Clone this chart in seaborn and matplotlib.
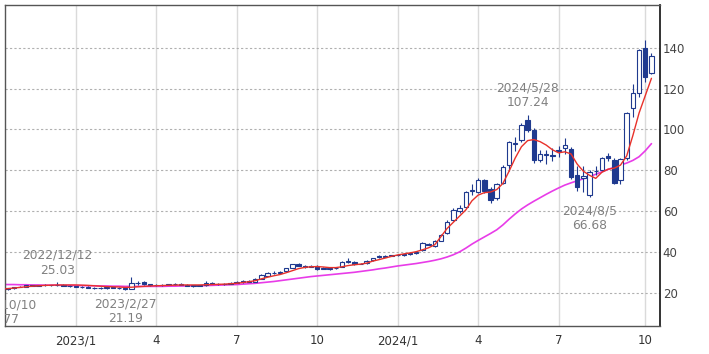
import pandas as pd
import numpy as np
import matplotlib
matplotlib.use('Agg')
import matplotlib.pyplot as plt
import matplotlib.dates as mdates
import matplotlib.transforms as mtransforms
import seaborn as sns

# Weekly candles (week starting Monday)
weeks = pd.date_range('2022-10-10', periods=106, freq='7D')

opens = [22.3, 21.9, 22.2, 22.9, 23.0, 23.6, 23.5, 23.9, 23.6, 23.8, 24.0, 23.5,
         23.3, 22.8, 22.9, 22.5, 22.1, 22.2, 22.6, 22.5, 22.3, 21.9, 24.7, 25.2,
         24.2, 23.7, 23.8, 24.0, 24.2, 24.4, 24.0, 23.5, 23.6, 23.6, 24.8, 24.5,
         24.4, 24.5, 25.0, 25.4, 25.6, 25.4, 26.8, 28.4, 29.8, 29.7, 30.6, 32.3,
         33.9, 33.2, 32.8, 33.2, 31.7, 31.9, 31.9, 32.6, 35.3, 35.0, 34.1, 34.5,
         35.8, 37.8, 37.6, 38.0,
         38.3, 38.5, 38.8, 39.3, 40.9, 44.0, 42.8, 45.5, 49.0, 55.6, 60.0, 62.1,
         70.0, 69.5, 75.0, 70.6, 66.2, 73.6, 82.5, 92.8, 95.0, 104.8, 99.8, 85.0,
         87.2, 87.5, 89.9, 90.7, 90.6, 77.6, 76.2, 68.0, 79.5, 80.0, 86.8, 85.0,
         75.2, 85.8, 110.3, 117.6, 139.7, 127.8]
highs = [22.6, 22.5, 23.0, 23.3, 23.8, 24.0, 24.0, 24.2, 24.0, 25.03, 24.3, 23.8,
         23.5, 23.2, 23.1, 22.8, 22.6, 22.8, 22.9, 22.7, 22.5, 27.5, 25.6, 25.6,
         24.5, 24.1, 24.3, 24.5, 24.7, 24.8, 24.2, 23.9, 24.0, 25.5, 25.1, 24.9,
         24.8, 25.2, 25.6, 26.0, 26.1, 27.0, 29.0, 30.2, 30.4, 30.5, 32.2, 34.3,
         34.4, 33.6, 33.5, 33.5, 32.4, 32.5, 32.7, 35.4, 36.8, 35.3, 34.7, 36.0,
         37.2, 38.3, 38.3, 38.6,
         38.8, 39.2, 39.6, 40.4, 44.8, 44.5, 45.8, 48.8, 55.5, 61.5, 63.0, 69.8,
         73.0, 76.0, 75.8, 71.8, 73.8, 82.5, 94.3, 96.5, 103.0, 107.24, 100.5, 90.0,
         90.0, 91.0, 92.0, 95.8, 91.3, 82.0, 82.0, 80.0, 82.0, 86.5, 88.2, 85.8,
         86.0, 108.5, 122.0, 139.5, 143.8, 137.2]
lows = [20.77, 21.5, 22.0, 22.6, 22.8, 23.2, 23.3, 23.4, 23.2, 23.5, 23.2, 23.0,
        22.6, 22.4, 22.3, 21.9, 21.8, 22.0, 22.2, 21.9, 21.19, 21.7, 24.0, 24.0,
        23.4, 23.3, 23.4, 23.6, 23.8, 23.8, 23.3, 23.0, 23.2, 23.4, 24.2, 24.0,
        24.0, 24.2, 24.6, 25.0, 25.2, 25.2, 26.5, 28.0, 29.2, 29.2, 30.4, 32.0,
        33.0, 32.3, 32.4, 31.3, 31.4, 31.3, 31.6, 32.4, 34.6, 33.8, 33.9, 34.3,
        35.6, 37.0, 37.4, 37.8,
        37.8, 38.2, 38.7, 39.0, 40.5, 43.2, 42.2, 45.2, 48.6, 55.0, 58.8, 61.5,
        68.0, 69.0, 68.8, 64.0, 65.6, 73.0, 79.5, 89.5, 94.0, 98.5, 83.5, 84.2,
        83.0, 84.5, 86.5, 88.0, 75.5, 70.0, 69.5, 66.68, 77.5, 79.5, 84.5, 73.0,
        73.0, 85.0, 106.0, 116.0, 123.0, 127.0]
closes = [21.8, 22.2, 22.8, 23.0, 23.6, 23.5, 23.8, 23.6, 23.8, 24.0, 23.5, 23.3,
          22.8, 22.9, 22.5, 22.1, 22.2, 22.6, 22.5, 22.1, 21.6, 24.8, 24.9, 24.2,
          23.7, 23.8, 24.0, 24.2, 24.4, 24.0, 23.5, 23.6, 23.4, 24.8, 24.5, 24.4,
          24.5, 25.0, 25.4, 25.6, 25.4, 26.8, 28.5, 29.8, 29.7, 30.1, 31.9, 33.9,
          33.3, 32.8, 33.0, 31.6, 31.9, 31.8, 32.3, 35.2, 35.0, 34.1, 34.3, 35.7,
          36.9, 37.5, 37.9, 38.3,
          38.5, 38.8, 39.3, 40.1, 44.3, 43.5, 45.3, 48.2, 54.8, 60.5, 61.6, 69.2,
          70.5, 75.3, 69.6, 65.4, 73.2, 81.7, 93.8, 93.5, 102.3, 99.5, 85.0, 88.0,
          87.8, 87.0, 89.2, 92.3, 76.8, 72.0, 77.3, 79.3, 79.8, 85.8, 86.2, 73.6,
          85.6, 107.8, 117.6, 138.8, 125.5, 136.0]

# 13-week (red) and 26-week (magenta) moving averages
ma13 = [21.7, 22.0, 22.3, 22.6, 22.9, 23.2, 23.4, 23.6, 23.7, 23.8, 23.8, 23.8,
        23.8, 23.7, 23.6, 23.4, 23.2, 23.0, 22.9, 22.8, 22.6, 22.7, 22.9, 23.1,
        23.3, 23.4, 23.5, 23.6, 23.7, 23.8, 23.8, 23.8, 23.8, 23.9, 24.0, 24.1,
        24.2, 24.4, 24.6, 25.0, 25.4, 25.9, 26.8, 27.6, 28.3, 28.9, 29.8, 30.8,
        31.8, 32.4, 32.7, 32.8, 32.6, 32.3, 32.3, 32.7, 33.3, 33.7, 34.0, 34.5,
        35.5, 36.2, 37.0, 37.8,
        38.5, 39.0, 39.5, 40.1, 41.0, 42.0, 43.5, 47.5, 51.5, 54.5, 57.5, 60.5,
        65.0, 67.8, 69.0, 69.3, 70.5, 73.5, 79.5, 86.0, 91.5, 94.5, 95.0, 94.0,
        92.3, 90.0, 88.5, 89.0, 88.0, 83.0, 79.5, 77.5, 76.0, 79.0, 80.5, 81.0,
        82.5, 87.0, 97.0, 108.0, 116.5, 125.0]
ma26 = [24.1, 24.0, 24.0, 23.9, 23.9, 23.8, 23.8, 23.7, 23.7, 23.7, 23.6, 23.6,
        23.5, 23.5, 23.4, 23.4, 23.3, 23.3, 23.2, 23.2, 23.1, 23.1, 23.1, 23.1,
        23.1, 23.1, 23.1, 23.2, 23.2, 23.3, 23.3, 23.4, 23.4, 23.5, 23.6, 23.7,
        23.8, 23.9, 24.0, 24.2, 24.4, 24.6, 24.9, 25.2, 25.5, 25.9, 26.3, 26.7,
        27.1, 27.5, 27.9, 28.2, 28.5, 28.8, 29.1, 29.4, 29.7, 30.0, 30.4, 30.8,
        31.2, 31.7, 32.1, 32.6,
        33.1, 33.5, 33.9, 34.3, 34.8, 35.3, 35.9, 36.6, 37.5, 38.6, 40.0, 41.8,
        43.8, 45.6, 47.3, 49.0, 50.8, 53.2, 56.0, 58.6, 61.0, 63.0, 64.8, 66.5,
        68.2, 69.8, 71.3, 72.7, 73.8, 74.8, 75.8, 76.9, 78.0, 79.2, 80.4, 81.5,
        82.5, 83.5, 84.8, 86.6, 89.5, 93.0]

tick_dates = ['2023-01-02', '2023-04-03', '2023-07-03', '2023-10-02',
              '2024-01-01', '2024-04-01', '2024-07-01', '2024-10-07']
tick_labels = ['2023/1', '4', '7', '10', '2024/1', '4', '7', '10']

# (week index, label, above?)
notes = [(0, '2022/10/10\n20.77', False),
         (9, '2022/12/12\n25.03', True),
         (20, '2023/2/27\n21.19', False),
         (85, '2024/5/28\n107.24', True),
         (95, '2024/8/5\n66.68', False)]

df = pd.DataFrame({'date': weeks, 'open': opens, 'high': highs, 'low': lows,
                   'close': closes, 'ma13': ma13, 'ma26': ma26})

sns.set_style('white')
plt.rcParams['font.family'] = ['DejaVu Sans']

fig = plt.figure(figsize=(7.09, 3.54), dpi=100)
ax = fig.add_axes([5 / 709, 28 / 354, 655 / 709, 321 / 354])

navy = '#1f3a8f'
up = df['close'] >= df['open']

# wicks
ax.vlines(df['date'], df['low'], df['high'], color=navy, lw=0.8, zorder=3)
# bodies
body_w = 5
ax.bar(df['date'][up], (df['close'] - df['open'])[up], bottom=df['open'][up],
       width=body_w, color='white', edgecolor=navy, linewidth=0.8, zorder=4)
ax.bar(df['date'][~up], (df['open'] - df['close'])[~up], bottom=df['close'][~up],
       width=body_w, color=navy, edgecolor=navy, linewidth=0.8, zorder=4)

sns.lineplot(data=df, x='date', y='ma26', color='#e83ce8', lw=1.2, ax=ax, zorder=2)
sns.lineplot(data=df, x='date', y='ma13', color='#e8312a', lw=1.0, ax=ax, zorder=5)

# annotations for highs / lows
for idx, txt, above in notes:
    if above:
        tr = mtransforms.offset_copy(ax.transData, fig=fig, y=4, units='points')
        ax.text(df['date'][idx], df['high'][idx], txt, transform=tr, ha='center',
                va='bottom', fontsize=8.8, color='#808080', clip_on=True, zorder=6)
    else:
        tr = mtransforms.offset_copy(ax.transData, fig=fig, y=-5, units='points')
        ax.text(df['date'][idx], df['low'][idx], txt, transform=tr, ha='center',
                va='top', fontsize=8.8, color='#808080', clip_on=True, zorder=6)

ax.set_xlim(pd.Timestamp('2022-10-14'), pd.Timestamp('2024-10-23 16:00'))
ax.set_ylim(3.7, 160.9)

ax.set_xticks(pd.to_datetime(tick_dates))
ax.set_xticklabels(tick_labels)
ax.set_yticks([20, 40, 60, 80, 100, 120, 140])
ax.yaxis.tick_right()
ax.tick_params(axis='y', length=0, pad=2, labelsize=8.5, labelcolor='#444444')
ax.tick_params(axis='x', length=0, pad=6, labelsize=8.5, labelcolor='#333333')

ax.grid(axis='y', color='#b0b0b0', linestyle=(0, (2, 2)), lw=0.8)
ax.grid(axis='x', color='#dadada', linestyle='-', lw=1.0)
ax.set_axisbelow(True)

for side in ['left', 'top', 'bottom']:
    ax.spines[side].set_color('#555555')
    ax.spines[side].set_linewidth(1.0)
ax.spines['right'].set_color('#222222')
ax.spines['right'].set_linewidth(1.3)

ax.set_xlabel('')
ax.set_ylabel('')

fig.savefig('out.png', dpi=100)
